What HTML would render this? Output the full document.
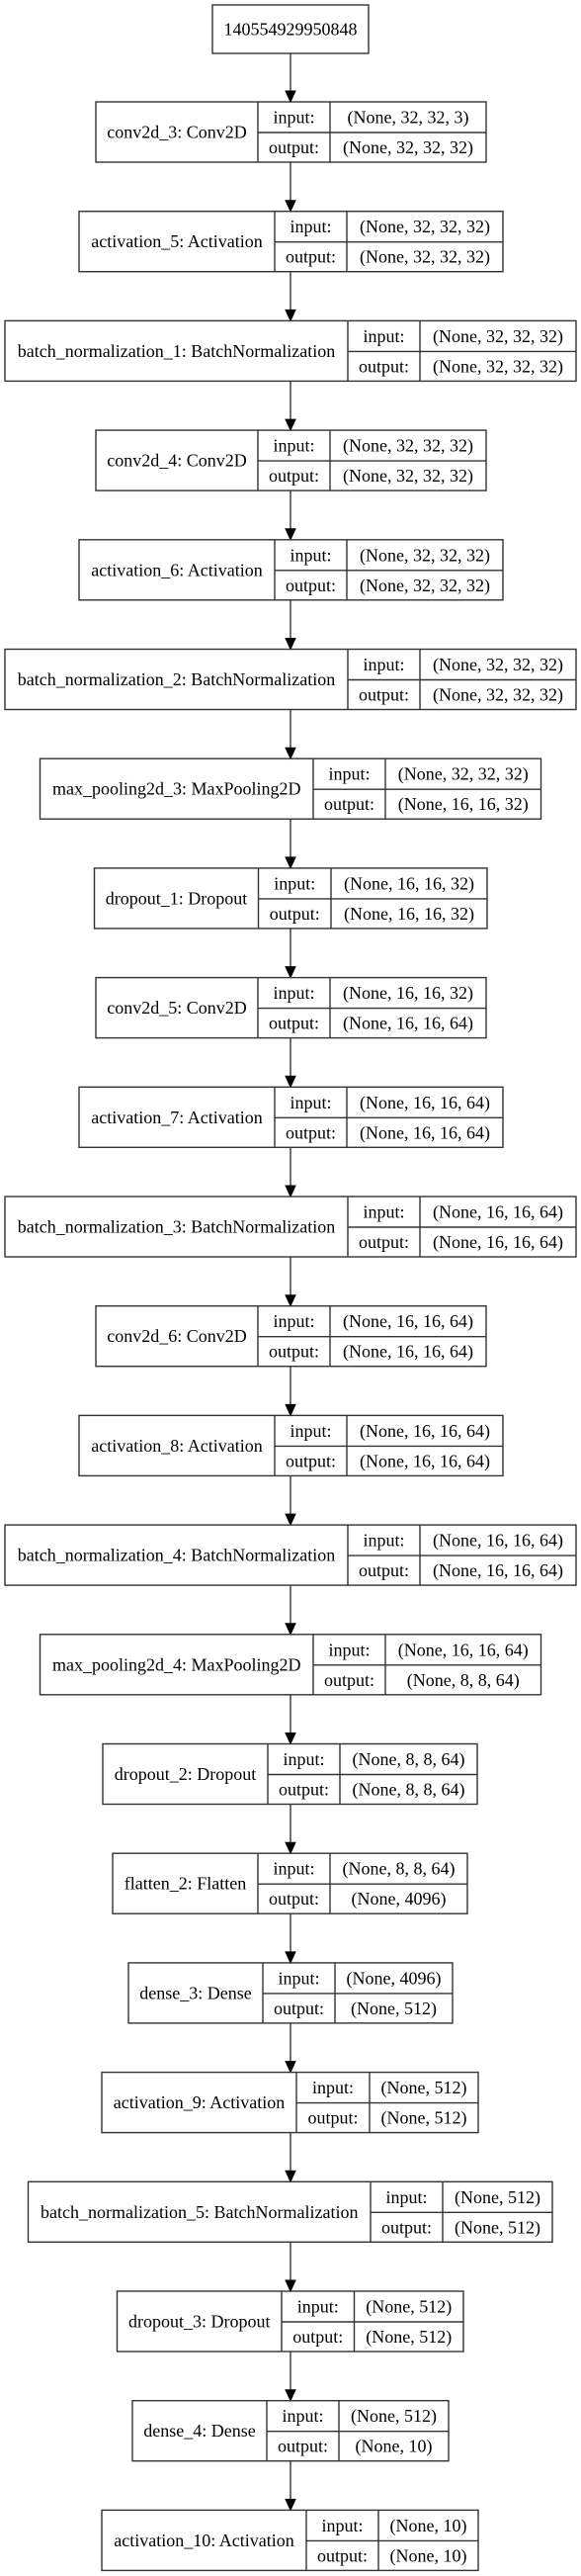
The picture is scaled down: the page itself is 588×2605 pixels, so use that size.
<!DOCTYPE html>
<html><head><meta charset="utf-8"><style>html,body{margin:0;padding:0;background:#fff}svg{display:block}</style></head>
<body>
<svg id="s" xmlns="http://www.w3.org/2000/svg" width="588" height="2605" viewBox="0 0 588 2605" font-family="'Liberation Serif', serif" font-size="18" fill="#000">
<rect x="0" y="0" width="588" height="2605" fill="#fff"/>
<g stroke="#333" stroke-width="1.4" fill="none">
<rect x="215" y="5" width="158" height="49"/>
</g>
<text x="294" y="35.5" text-anchor="middle">140554929950848</text>
<g id="g"></g>
</svg>
<script>
var L=[
["conv2d_3: Conv2D",97,261,334,492,"(None, 32, 32, 3)","(None, 32, 32, 32)"],
["activation_5: Activation",80,278,351,509,"(None, 32, 32, 32)","(None, 32, 32, 32)"],
["batch_normalization_1: BatchNormalization",5,352,425,583,"(None, 32, 32, 32)","(None, 32, 32, 32)"],
["conv2d_4: Conv2D",97,261,334,492,"(None, 32, 32, 32)","(None, 32, 32, 32)"],
["activation_6: Activation",80,278,351,509,"(None, 32, 32, 32)","(None, 32, 32, 32)"],
["batch_normalization_2: BatchNormalization",5,352,425,583,"(None, 32, 32, 32)","(None, 32, 32, 32)"],
["max_pooling2d_3: MaxPooling2D",40.5,317,390,547.5,"(None, 32, 32, 32)","(None, 16, 16, 32)"],
["dropout_1: Dropout",95.5,261.5,335,493,"(None, 16, 16, 32)","(None, 16, 16, 32)"],
["conv2d_5: Conv2D",97,261,334,492,"(None, 16, 16, 32)","(None, 16, 16, 64)"],
["activation_7: Activation",80,278,351,509,"(None, 16, 16, 64)","(None, 16, 16, 64)"],
["batch_normalization_3: BatchNormalization",5,352,425,583,"(None, 16, 16, 64)","(None, 16, 16, 64)"],
["conv2d_6: Conv2D",97,261,334,492,"(None, 16, 16, 64)","(None, 16, 16, 64)"],
["activation_8: Activation",80,278,351,509,"(None, 16, 16, 64)","(None, 16, 16, 64)"],
["batch_normalization_4: BatchNormalization",5,352,425,583,"(None, 16, 16, 64)","(None, 16, 16, 64)"],
["max_pooling2d_4: MaxPooling2D",40.5,317,390,547.5,"(None, 16, 16, 64)","(None, 8, 8, 64)"],
["dropout_2: Dropout",104,271,344,483,"(None, 8, 8, 64)","(None, 8, 8, 64)"],
["flatten_2: Flatten",114,261,334,473,"(None, 8, 8, 64)","(None, 4096)"],
["dense_3: Dense",130,266,339,458,"(None, 4096)","(None, 512)"],
["activation_9: Activation",103,300,374,484,"(None, 512)","(None, 512)"],
["batch_normalization_5: BatchNormalization",28.5,375,448,559,"(None, 512)","(None, 512)"],
["dropout_3: Dropout",118.5,285,358.5,469,"(None, 512)","(None, 512)"],
["dense_4: Dense",134,270,343,454,"(None, 512)","(None, 10)"],
["activation_10: Activation",103,310,383,484,"(None, 10)","(None, 10)"]
];
var h='',prev=54;
for(var i=0;i<L.length;i++){
 var r=L[i],y=103+i*110.7,x0=r[1],d1=r[2],d2=r[3],x1=r[4];
 h+='<line x1="294" y1="'+prev+'" x2="294" y2="'+(y-11)+'" stroke="#333" stroke-width="1.4"/>';
 h+='<polygon points="289,'+(y-11)+' 299,'+(y-11)+' 294,'+y+'" fill="#000" stroke="#000" stroke-width="1"/>';
 h+='<g stroke="#333" stroke-width="1.4" fill="none"><rect x="'+x0+'" y="'+y+'" width="'+(x1-x0)+'" height="61"/>';
 h+='<line x1="'+d1+'" y1="'+y+'" x2="'+d1+'" y2="'+(y+61)+'"/><line x1="'+d2+'" y1="'+y+'" x2="'+d2+'" y2="'+(y+61)+'"/>';
 h+='<line x1="'+d1+'" y1="'+(y+31)+'" x2="'+x1+'" y2="'+(y+31)+'"/></g>';
 h+='<text x="'+((x0+d1)/2)+'" y="'+(y+36.5)+'" text-anchor="middle">'+r[0]+'</text>';
 h+='<text x="'+((d1+d2)/2)+'" y="'+(y+21.5)+'" text-anchor="middle">input:</text>';
 h+='<text x="'+((d1+d2)/2)+'" y="'+(y+52)+'" text-anchor="middle">output:</text>';
 h+='<text x="'+((d2+x1)/2)+'" y="'+(y+21.5)+'" text-anchor="middle">'+r[5]+'</text>';
 h+='<text x="'+((d2+x1)/2)+'" y="'+(y+52)+'" text-anchor="middle">'+r[6]+'</text>';
 prev=y+61;
}
document.getElementById('g').innerHTML=h;
</script>
</body></html>
